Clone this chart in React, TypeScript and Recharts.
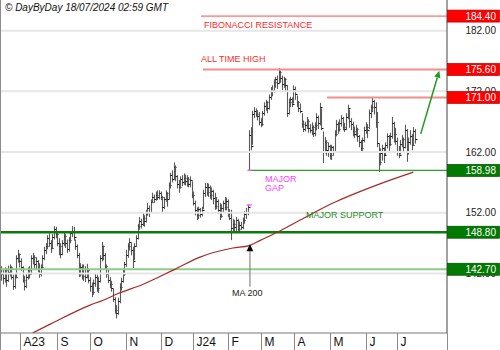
import React from 'react';
import { ComposedChart, Bar, Line, XAxis, YAxis, ReferenceLine } from 'recharts';

const highs = [
  143.2,142.6,143.0,142.8,143.3,143.5,143.2,141.8,142.0,145.0,
  145.9,145.3,144.5,143.2,141.6,142.0,143.0,143.2,145.0,145.4,
  145.0,144.7,144.2,143.7,143.5,145.0,146.4,147.0,148.3,148.6,
  147.5,148.5,149.8,149.7,149.0,147.8,147.0,147.5,148.8,148.5,
  147.6,148.0,149.0,149.8,149.7,147.6,146.8,145.4,143.7,143.5,
  143.5,143.2,143.6,142.8,141.4,140.5,141.0,142.0,141.8,141.4,
  145.0,147.2,146.6,145.4,143.5,142.6,141.4,140.8,139.5,138.1,
  136.8,138.0,140.4,141.3,142.8,143.9,145.9,147.0,147.8,147.0,
  146.4,147.0,148.3,150.2,151.3,151.0,152.0,151.6,152.5,153.6,
  153.2,154.2,155.3,155.0,155.5,155.7,155.7,155.5,154.8,154.6,
  155.7,155.4,157.0,158.6,159.0,160.3,159.8,158.2,157.4,158.0,
  158.2,158.5,158.3,158.2,157.9,158.0,157.2,155.5,154.0,152.9,
  153.0,152.8,153.0,155.8,156.9,156.9,156.8,156.5,156.2,155.8,
  155.3,154.6,154.2,153.6,153.4,154.0,154.6,154.5,154.2,152.6,
  152.5,151.0,150.8,151.3,151.0,150.6,150.5,151.2,152.3,152.8,
  153.3,165.6,166.1,168.8,169.4,169.2,168.9,168.6,167.6,168.8,
  170.2,170.6,170.4,171.5,172.7,173.0,174.0,174.4,174.6,175.8,
  175.4,174.6,174.4,174.2,173.0,170.8,171.1,171.0,173.0,172.8,
  171.3,170.4,170.0,168.4,167.2,167.0,167.8,167.4,166.6,166.9,
  166.4,166.9,168.4,168.0,170.1,169.2,165.4,164.5,164.0,163.6,
  163.2,163.2,163.0,165.6,167.3,167.0,167.4,168.1,167.8,166.8,
  168.4,169.8,169.0,167.6,167.0,166.2,166.5,166.0,164.8,164.0,
  164.4,166.2,166.9,166.6,169.0,169.8,171.1,170.6,170.2,168.6,
  163.4,162.6,163.2,162.8,163.6,165.1,164.8,165.2,167.8,167.0,
  166.0,164.4,163.0,164.0,164.8,164.4,166.5,165.8,164.4,165.6,
  165.0,166.1,165.8,
];

const lows = [
  140.8,140.2,140.5,139.8,140.6,141.5,141.0,139.3,139.5,141.2,
  143.8,143.0,142.4,140.5,139.2,139.6,141.0,141.2,141.8,143.5,
  142.8,142.6,142.2,141.3,141.5,142.8,144.2,145.2,146.0,146.4,
  145.4,146.0,147.6,147.8,146.5,145.0,144.5,145.0,146.5,146.2,
  145.4,145.6,147.0,148.0,147.4,145.9,144.5,141.4,141.5,141.0,
  140.8,140.6,141.2,140.4,139.0,138.1,138.5,139.8,139.0,138.8,
  140.5,144.0,144.2,142.6,141.3,140.4,139.6,139.0,137.3,135.4,
  134.6,135.2,137.1,139.2,140.5,141.6,143.1,144.6,145.8,145.0,
  142.9,144.2,146.4,147.6,149.2,149.4,149.8,149.7,150.4,151.5,
  151.3,152.0,153.6,153.6,154.0,154.1,154.2,154.1,152.0,152.6,
  153.8,153.0,154.2,156.0,157.0,157.4,157.2,156.0,155.3,156.0,
  156.4,156.6,156.5,156.3,156.2,156.2,154.4,153.2,151.6,150.8,
  151.0,151.2,151.4,152.6,154.6,154.8,154.6,154.3,154.1,153.4,
  152.5,152.6,151.8,150.8,151.2,152.0,152.4,152.4,151.3,150.8,
  147.5,148.8,148.9,149.0,148.8,149.0,149.2,149.3,150.2,151.0,
  151.6,158.98,162.3,163.2,167.6,167.8,167.2,166.4,166.1,166.3,
  168.0,168.8,168.4,169.0,170.6,171.2,171.8,172.6,172.4,173.2,
  173.4,172.2,172.6,172.0,167.8,168.2,169.4,169.4,170.0,170.6,
  169.4,168.6,168.4,166.0,165.3,165.4,165.8,165.2,165.1,164.8,
  164.5,164.6,165.6,165.8,166.4,165.6,160.2,161.8,161.4,161.2,
  160.8,160.7,161.4,162.0,164.6,165.0,165.4,166.2,165.6,165.3,
  165.6,167.4,166.0,165.6,164.6,164.3,164.6,163.7,162.8,162.0,
  162.2,163.6,165.0,164.3,165.8,167.6,168.6,168.2,166.0,162.8,
  158.7,159.8,160.6,160.2,161.5,162.6,162.2,163.0,164.2,163.6,
  163.2,161.4,161.0,161.6,162.8,162.0,162.6,160.4,161.6,163.2,
  162.3,163.0,163.4,
];

const closes = [
  142.0,141.2,142.5,141.0,142.2,143.0,141.5,140.0,141.5,144.5,
  145.2,144.0,143.0,141.0,140.0,141.5,142.5,142.0,144.5,144.8,
  143.6,144.0,142.8,142.0,143.0,144.5,145.8,146.5,147.8,147.0,
  146.2,148.0,149.3,148.5,147.0,146.5,145.2,147.0,148.2,147.0,
  146.0,147.5,148.6,149.0,148.0,146.5,145.0,142.0,143.0,141.6,
  142.8,141.5,142.5,141.0,140.0,139.0,140.5,141.5,139.6,140.8,
  144.5,146.5,145.0,143.2,142.0,141.0,140.2,139.6,137.8,136.0,
  135.5,137.5,139.8,140.8,142.0,143.5,145.0,146.5,147.2,145.8,
  144.0,146.5,147.8,149.8,150.6,150.2,151.2,150.6,152.0,152.8,
  152.2,153.8,154.6,154.2,155.0,154.6,155.2,154.6,153.0,154.2,
  155.2,154.2,156.5,158.2,157.6,159.6,158.0,156.8,156.2,157.5,
  157.0,157.8,157.2,157.6,156.8,157.4,155.0,153.6,152.4,151.6,
  152.6,151.8,152.4,155.2,156.3,155.5,156.2,155.0,155.6,154.4,
  153.2,154.0,152.5,151.5,152.8,153.6,153.0,154.0,152.0,151.2,
  149.5,150.2,149.6,150.8,149.4,150.0,149.6,150.8,151.8,152.2,
  152.9,164.8,163.0,168.2,168.8,168.3,168.0,167.0,166.6,168.4,
  169.6,170.2,169.2,171.0,172.2,172.0,173.6,174.0,173.4,175.2,
  174.2,173.2,174.0,173.0,168.4,170.2,170.8,170.0,172.4,171.6,
  170.2,169.2,168.8,166.6,165.8,166.4,167.2,166.0,165.6,166.2,
  165.2,166.4,167.8,166.8,169.4,166.0,162.0,163.6,162.4,163.0,
  161.6,162.8,162.2,165.0,166.6,165.8,166.8,167.6,166.2,165.8,
  167.8,169.2,167.2,166.6,165.4,165.0,165.8,164.6,163.6,162.6,
  164.0,165.6,166.2,165.6,168.4,169.4,170.4,169.4,167.0,163.5,
  160.4,161.8,162.6,161.6,163.2,164.6,163.4,164.6,166.8,165.0,
  163.8,162.2,161.6,163.4,164.2,162.8,165.6,162.0,163.6,164.6,
  163.2,165.4,164.2,
];

const monthTicks = [11, 34, 54, 76, 97, 117, 138, 158, 178, 200, 222, 241];
const monthLabels = ['A23', 'S', 'O', 'N', 'D', 'J24', 'F', 'M', 'A', 'M', 'J', 'J'];

const maIdx = [19, 30, 54, 62, 71, 86, 105, 121, 141, 151, 158, 168, 182, 202, 229, 251];
const maVals = [132.2, 133.7, 136.8, 137.6, 138.7, 140.2, 142.6, 144.7, 146.2, 146.6, 147.5, 148.8, 150.8, 153.6, 156.6, 158.7];

const gridValues = [142, 152, 162, 172, 182];
const levelValues = [184.4, 175.6, 171.0, 158.98, 148.8, 142.7];
const levelStart = [121.6, 122.8, 198.4, 150.2, -0.3, -0.3];

const gapTop = 158.98;
const gapBottom = 153.3;

const trendArrow = [{ x: 255.5, y: 165.0 }, { x: 266.8, y: 175.4 }];
const maArrow = [{ x: 151.4, y: 139.8 }, { x: 151.4, y: 146.8 }];

const X_MIN = -0.3;
const X_MAX = 271.5;
const Y_MIN = 132.2;
const Y_MAX = 187.05;

const data = closes.map((c, i) => ({ i, h: highs[i], l: lows[i], c, range: [lows[i], highs[i]] }));
const maData = maIdx.map((i, k) => ({ i, ma: maVals[k] }));

const levelStyle: Record<string, { stroke: string; w: number }> = {
  '184.4': { stroke: '#ff4a4a', w: 1 },
  '175.6': { stroke: '#f38d8d', w: 2 },
  '171': { stroke: '#f38d8d', w: 2 },
  '158.98': { stroke: '#2e9e2e', w: 1.3 },
  '148.8': { stroke: '#0b7a0b', w: 2.6 },
  '142.7': { stroke: '#8ccb8c', w: 2 },
};

const FONT = 'Liberation Sans, Arial, Helvetica, sans-serif';

const OhlcShape = (props: any) => {
  const { x, y, width, height, payload } = props;
  if (x == null || y == null || !payload) return null;
  const top = height < 0 ? y + height : y;
  const hh = Math.abs(height);
  const cx = Math.round(x + width / 2) + 0.5;
  const span = payload.h - payload.l || 1;
  const yc = Math.round(top + ((payload.h - payload.c) / span) * hh) + 0.5;
  return (
    <g>
      <line x1={cx} x2={cx} y1={top} y2={top + hh} stroke="#5a5a5a" strokeWidth={1.1} />
      <line x1={cx} x2={cx + 2} y1={yc} y2={yc} stroke="#111" strokeWidth={1} />
    </g>
  );
};

const YTick = (props: any) => {
  const { y, payload } = props;
  const v = payload.value;
  const isLevel = levelValues.indexOf(v) >= 0;
  if (isLevel) {
    const red = v > 165;
    return (
      <g>
        <rect x={447.5} y={y - 6} width={52} height={12} fill={red ? '#ff0000' : '#007a00'} stroke={red ? '#b30000' : '#004d00'} strokeWidth={0.7} />
        <text x={496} y={y + 3.6} textAnchor="end" fill="#ffffff" fontSize={10} fontFamily={FONT}>
          {v.toFixed(2)}
        </text>
      </g>
    );
  }
  return (
    <text x={496} y={y + 3.6} textAnchor="end" fill="#222" fontSize={10} fontFamily={FONT}>
      {v.toFixed(2)}
    </text>
  );
};

const XTick = (props: any) => {
  const { x, payload } = props;
  const k = monthTicks.indexOf(payload.value);
  const xx = Math.round(x) + 0.5;
  return (
    <g>
      <line x1={xx} x2={xx} y1={333} y2={350} stroke="#8a8a8a" strokeWidth={1} />
      {k >= 0 && (
        <text x={xx + 3} y={346} fontSize={12} fill="#111" fontFamily={FONT}>
          {monthLabels[k]}
        </text>
      )}
    </g>
  );
};

const arrowShape = (color: string, lineColor: string, len: number, half: number, w: number) => (props: any) => {
  const { x1, y1, x2, y2 } = props;
  if ([x1, y1, x2, y2].some((n) => n == null || isNaN(n))) return null;
  const dx = x2 - x1;
  const dy = y2 - y1;
  const d = Math.sqrt(dx * dx + dy * dy) || 1;
  const ux = dx / d;
  const uy = dy / d;
  const bx = x2 - ux * len;
  const by = y2 - uy * len;
  const px = -uy * half;
  const py = ux * half;
  return (
    <g>
      <line x1={x1} y1={y1} x2={bx} y2={by} stroke={lineColor} strokeWidth={w} />
      <polygon points={`${x2},${y2} ${bx + px},${by + py} ${bx - px},${by - py}`} fill={color} />
    </g>
  );
};

const GreenArrow = arrowShape('#1f9a1f', '#1f9a1f', 7, 3.2, 1.5);
const BlackArrow = arrowShape('#000', '#888', 7, 3.4, 1.2);

export default function App() {
  return (
    <div style={{ position: 'absolute', left: 0, top: 0, width: 500, height: 350, background: '#fff', fontFamily: FONT }}>
      <div style={{ position: 'absolute', left: 0, top: 0, width: 1, height: 350, background: '#8c8c8c' }} />
      <div style={{ position: 'absolute', left: 0, top: 0 }}>
        <ComposedChart width={500} height={350} data={data} margin={{ top: 0, right: 0, bottom: 0, left: 1 }}>
          <XAxis
            type="number"
            dataKey="i"
            domain={[X_MIN, X_MAX]}
            allowDataOverflow
            ticks={[...monthTicks, X_MAX]}
            interval={0}
            tick={<XTick />}
            tickLine={false}
            axisLine={{ stroke: '#777' }}
            height={17}
          />
          <YAxis
            orientation="right"
            type="number"
            domain={[Y_MIN, Y_MAX]}
            allowDataOverflow
            ticks={[...gridValues, ...levelValues]}
            interval={0}
            tick={<YTick />}
            tickLine={false}
            axisLine={{ stroke: '#444' }}
            width={53}
          />
          {gridValues.map((g) => (
            <ReferenceLine key={'g' + g} y={g} stroke="#e6e6e6" strokeWidth={2} />
          ))}
          {levelValues.map((v, k) => (
            <ReferenceLine
              key={'l' + v}
              segment={[{ x: levelStart[k], y: v }, { x: X_MAX, y: v }]}
              stroke={levelStyle[String(v)].stroke}
              strokeWidth={levelStyle[String(v)].w}
            />
          ))}
          <ReferenceLine segment={[{ x: 149.9, y: gapTop }, { x: 152.3, y: gapTop }]} stroke="#ff5cff" strokeWidth={1.4} />
          <ReferenceLine segment={[{ x: 149.4, y: gapBottom }, { x: 152.6, y: gapBottom }]} stroke="#ff5cff" strokeWidth={1.4} />
          <Bar dataKey="range" barSize={2} shape={OhlcShape} isAnimationActive={false} />
          <Line data={maData} dataKey="ma" type="monotone" stroke="#a52a28" strokeWidth={1.2} dot={false} isAnimationActive={false} />
          <ReferenceLine segment={trendArrow} shape={GreenArrow} />
          <ReferenceLine segment={maArrow} shape={BlackArrow} />
        </ComposedChart>
      </div>
      <svg width={500} height={350} style={{ position: 'absolute', left: 0, top: 0, pointerEvents: 'none' }}>
        <text x={5} y={10.5} fontSize={10} fontStyle="italic" fill="#111" fontFamily={FONT}>© DayByDay 18/07/2024 02:59 GMT</text>
        <text x={204} y={28} fontSize={9} fill="#ff2a2a" fontFamily={FONT}>FIBONACCI RESISTANCE</text>
        <text x={201} y={61.5} fontSize={9} fill="#ff2a2a" fontFamily={FONT}>ALL TIME HIGH</text>
        <text x={265} y={182} fontSize={9} fill="#ff40ff" fontFamily={FONT}>MAJOR</text>
        <text x={265} y={191} fontSize={9} fill="#ff40ff" fontFamily={FONT}>GAP</text>
        <text x={306} y={217.5} fontSize={9} fill="#1e8c1e" fontFamily={FONT}>MAJOR SUPPORT</text>
        <text x={232} y={296} fontSize={9} fill="#222" fontFamily={FONT}>MA 200</text>
      </svg>
    </div>
  );
}
